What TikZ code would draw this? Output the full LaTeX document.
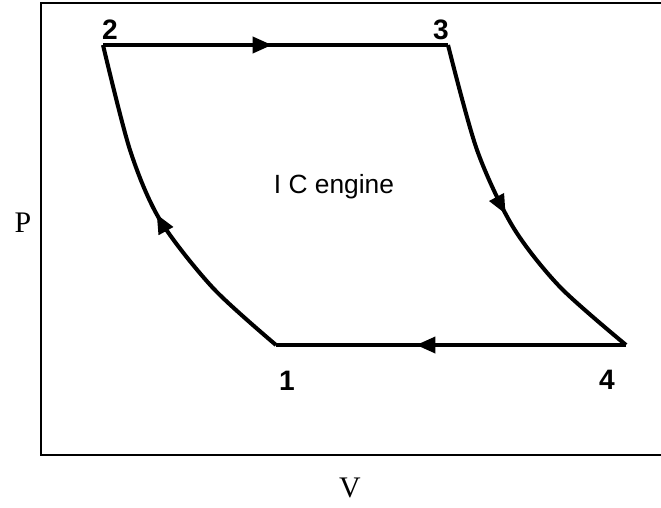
\documentclass[tikz,border=0pt]{standalone}
\usepackage{fontspec}
\setmainfont{Liberation Serif}
\newfontfamily\labelfont{Liberation Sans}
\usepackage{tikz}
\usetikzlibrary{arrows.meta}
\usetikzlibrary{decorations.markings}

\begin{document}
\begin{tikzpicture}[x=0.02cm,y=-0.02cm,
    cycleline/.style={line width=2.3pt,line join=round},
    midarrow/.style={postaction={decorate,decoration={markings,
        mark=at position #1 with {\arrow{Triangle[length=11pt,width=9pt]}}}}},
    statelabel/.style={font=\labelfont\bfseries\fontsize{16}{18}\selectfont,anchor=base,inner sep=0pt},
    axislabel/.style={font=\fontsize{17}{19}\selectfont,anchor=base,inner sep=0pt}]
    \useasboundingbox (0,0) rectangle (661,507);
    % frame
    \draw[line width=1.1pt] (661,3) -- (41,3) -- (41,455) -- (661,455);
    % states
    \coordinate (s1) at (276,345);
    \coordinate (s2) at (103,45);
    \coordinate (s3) at (448,45);
    \coordinate (s4) at (626,345);
    \node[statelabel](l1) at (287,390) {1};
    \node[statelabel](l2) at (110,39) {2};
    \node[statelabel](l3) at (441,39) {3};
    \node[statelabel](l4) at (607,389) {4};
    % cycle
    \draw[cycleline,midarrow=0.49] (s2) -- (s3);
    \draw[cycleline,midarrow=0.5] plot[smooth,tension=0.5] coordinates {(s3) (477,150) (513,227) (560,287) (s4)};
    \draw[cycleline,midarrow=0.6] (s4) -- (s1);
    \draw[cycleline,midarrow=0.5] plot[smooth,tension=0.5] coordinates {(s1) (213,288) (160,220) (130,150) (s2)};
    % texts
    \node[font=\labelfont\fontsize{15}{17}\selectfont,anchor=base,inner sep=0pt](eng) at (334,193) {I C engine};
    \node[axislabel](pv) at (23,232) {P};
    \node[axislabel](vv) at (350,497) {V};
\end{tikzpicture}
\end{document}
